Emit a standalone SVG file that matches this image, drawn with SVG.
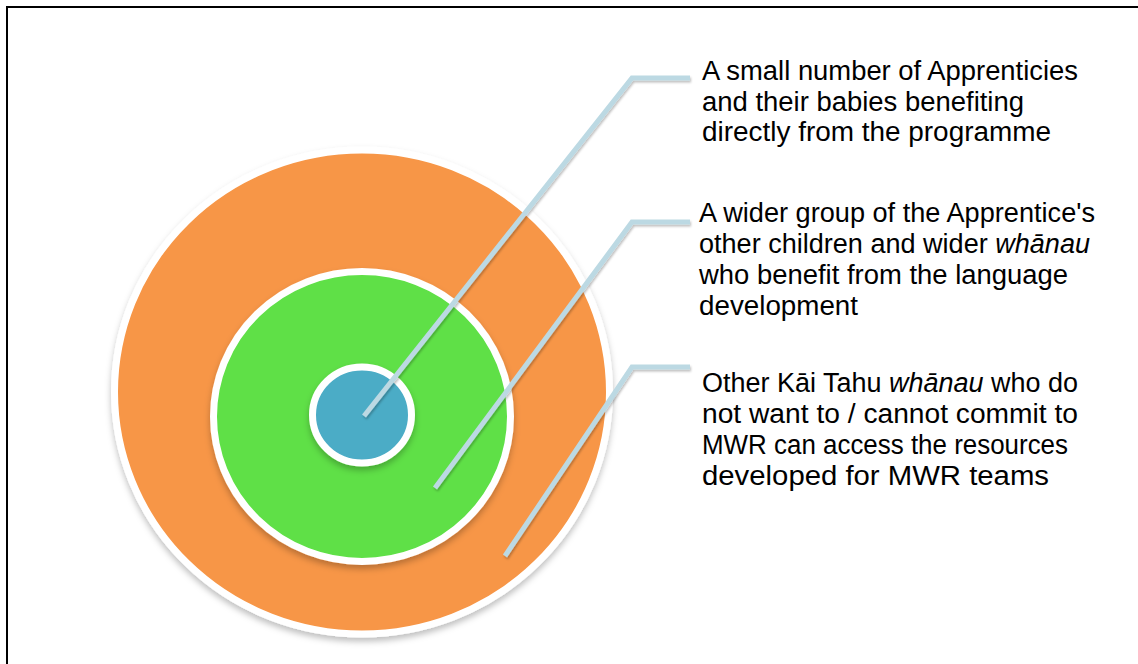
<svg xmlns="http://www.w3.org/2000/svg" width="1138" height="664" viewBox="0 0 1138 664">
  <defs>
    <style>
      .ring { stroke: #ffffff; stroke-width: 7; }
      .callout { fill: none; stroke: #bcd9e3; stroke-width: 5; stroke-linejoin: miter; stroke-linecap: butt; }
      .label { font-family: "Liberation Sans", Arial, sans-serif; font-size: 27px; fill: #000000; }
      .it { font-style: italic; }
    </style>
    <filter id="shadow" x="-10%" y="-10%" width="120%" height="125%">
      <feDropShadow dx="0" dy="4" stdDeviation="3" flood-color="#000000" flood-opacity="0.25"/>
    </filter>
    <filter id="lshadow" x="-10%" y="-10%" width="120%" height="120%">
      <feDropShadow dx="1" dy="2" stdDeviation="1.2" flood-color="#000000" flood-opacity="0.25"/>
    </filter>
  </defs>
  <rect x="0" y="0" width="1138" height="664" fill="#ffffff"/>
  <rect id="frame" x="7" y="7" width="1200" height="720" fill="none" stroke="#000000" stroke-width="2"/>

  <g id="outer-circle">
    <ellipse class="ring" cx="362" cy="392" rx="247.5" ry="242" fill="#f79646" filter="url(#shadow)"/>
  </g>
  <g id="middle-circle">
    <ellipse class="ring" cx="362" cy="416.5" rx="148.5" ry="145" fill="#5ee046" filter="url(#shadow)"/>
  </g>
  <g id="inner-circle">
    <ellipse class="ring" cx="362" cy="415" rx="49.5" ry="48" fill="#4bacc6" filter="url(#shadow)"/>
  </g>

  <g id="connectors" filter="url(#lshadow)">
    <polyline class="callout" points="364,416 632,78 690,78"/>
    <polyline class="callout" points="435,488 632,222 690,222"/>
    <polyline class="callout" points="505,556 632,367 690,367"/>
  </g>

  <g id="label-1">
    <text class="label" x="702" y="80" textLength="376" lengthAdjust="spacingAndGlyphs">A small number of Apprenticies</text>
    <text class="label" x="702" y="110.7" textLength="322" lengthAdjust="spacingAndGlyphs">and their babies benefiting</text>
    <text class="label" x="702" y="141.4" textLength="349" lengthAdjust="spacingAndGlyphs">directly from the programme</text>
  </g>
  <g id="label-2">
    <text class="label" x="699" y="222" textLength="396" lengthAdjust="spacingAndGlyphs">A wider group of the Apprentice's</text>
    <text class="label" x="699" y="253" textLength="391" lengthAdjust="spacingAndGlyphs">other children and wider <tspan class="it">whānau</tspan></text>
    <text class="label" x="699" y="284" textLength="369" lengthAdjust="spacingAndGlyphs">who benefit from the language</text>
    <text class="label" x="699" y="315" textLength="159" lengthAdjust="spacingAndGlyphs">development</text>
  </g>
  <g id="label-3">
    <text class="label" x="702" y="392" textLength="376" lengthAdjust="spacingAndGlyphs">Other Kāi Tahu <tspan class="it">whānau</tspan> who do</text>
    <text class="label" x="702" y="423" textLength="376" lengthAdjust="spacingAndGlyphs">not want to / cannot commit to</text>
    <text class="label" x="702" y="454" textLength="366" lengthAdjust="spacingAndGlyphs">MWR can access the resources</text>
    <text class="label" x="702" y="485" textLength="347" lengthAdjust="spacingAndGlyphs">developed for MWR teams</text>
  </g>
</svg>
